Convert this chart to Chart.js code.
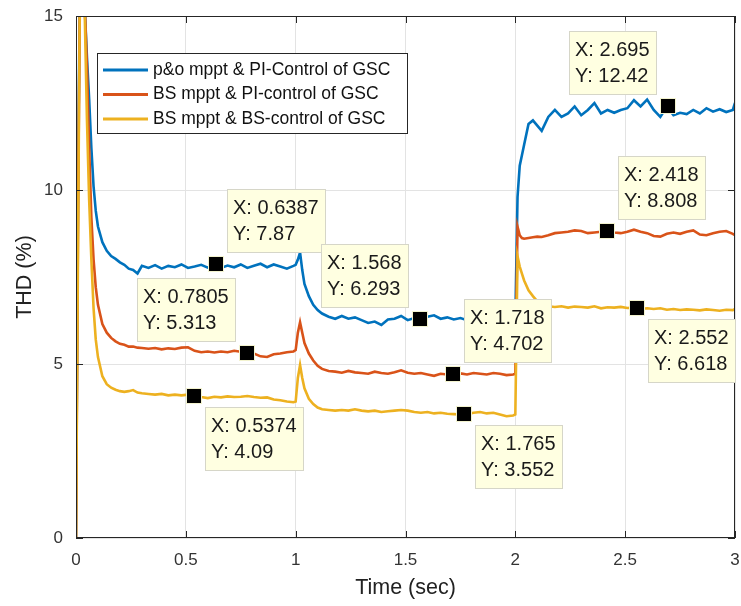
<!DOCTYPE html>
<html>
<head>
<meta charset="utf-8">
<script src="https://cdn.jsdelivr.net/npm/chart.js@4.4.1/dist/chart.umd.min.js"></script>
<style>
body { margin: 0; background: #fff; }
#wrap { width: 741px; height: 606px; }
</style>
</head>
<body>
<div id="wrap"><canvas id="thdChart" width="741" height="606"></canvas></div>
<script>
// time axis (sec), shared by all three curves
var timeSec = [0, 0.01, 0.02, 0.03, 0.04, 0.05, 0.06, 0.07, 0.08, 0.09, 0.1,
    0.12, 0.14, 0.16, 0.18, 0.2, 0.22, 0.24, 0.26, 0.28, 0.3,
    0.33, 0.36, 0.39, 0.42, 0.45, 0.48, 0.51, 0.54, 0.57, 0.6, 0.63, 0.66, 0.69, 0.72, 0.75, 0.78, 0.81, 0.84, 0.87, 0.9, 0.93, 0.96, 0.99,
    1.0, 1.01, 1.02, 1.03, 1.04, 1.06, 1.08, 1.1, 1.12,
    1.15, 1.18, 1.21, 1.24, 1.27, 1.3, 1.33, 1.36, 1.39, 1.42, 1.45, 1.48, 1.51, 1.54, 1.57, 1.6, 1.63, 1.66, 1.69, 1.72, 1.75, 1.78, 1.81, 1.84, 1.87, 1.9, 1.93, 1.96, 1.99,
    2.0, 2.01, 2.02, 2.03, 2.04, 2.06, 2.08, 2.1, 2.12,
    2.15, 2.18, 2.21, 2.24, 2.27, 2.3, 2.33, 2.36, 2.39, 2.42, 2.45, 2.48, 2.51, 2.54, 2.57, 2.6, 2.63, 2.66, 2.69, 2.72, 2.75, 2.78, 2.81, 2.84, 2.87, 2.9, 2.93, 2.96, 2.99, 3.0];

// p&o mppt & PI-Control of GSC
var thdPO = [0, 11, 17, 17.5, 15.2, 13.8, 12.6, 11.2, 10.1, 9.4, 8.95,
    8.5, 8.25, 8.1, 8.02, 7.92, 7.85, 7.74, 7.7, 7.6, 7.82,
    7.76, 7.84, 7.74, 7.82, 7.78, 7.86, 7.76, 7.8, 7.85, 7.77, 7.84, 7.76, 7.83, 7.78, 7.86, 7.76, 7.82, 7.88, 7.78, 7.86, 7.8, 7.74, 7.82,
    7.85, 8.0, 8.2, 7.7, 7.3, 6.95, 6.7, 6.55, 6.45,
    6.36, 6.3, 6.38, 6.3, 6.34, 6.26, 6.18, 6.22, 6.12, 6.28, 6.3, 6.38, 6.26, 6.32, 6.29, 6.36, 6.4, 6.3, 6.34, 6.28, 6.32, 6.26, 6.3, 6.34, 6.26, 6.3, 6.24, 6.3, 6.28,
    6.3, 9.8, 10.7, 11.0, 11.3, 11.9, 12.0, 11.85, 11.7,
    12.1, 12.3, 12.1, 12.2, 12.4, 12.15, 12.3, 12.5, 12.2, 12.3, 12.22, 12.3, 12.35, 12.58, 12.4, 12.6, 12.3, 12.1, 12.4, 12.15, 12.22, 12.18, 12.3, 12.2, 12.35, 12.25, 12.32, 12.24, 12.3, 12.5];

// BS mppt & PI-control of GSC
var thdBSPI = [0, 10, 17, 17.5, 15.3, 13.5, 11.2, 9.2, 8.0, 7.2, 6.7,
    6.15, 5.9, 5.75, 5.65, 5.58, 5.55, 5.5, 5.5, 5.47, 5.46,
    5.44, 5.46, 5.42, 5.45, 5.43, 5.47, 5.48, 5.38, 5.34, 5.36, 5.33, 5.36, 5.34, 5.38, 5.35, 5.31, 5.3, 5.22, 5.2, 5.28, 5.3, 5.34, 5.36,
    5.4, 5.9, 6.2, 5.9, 5.6, 5.3, 5.1, 4.95, 4.86,
    4.8, 4.78, 4.75, 4.8, 4.76, 4.74, 4.72, 4.78, 4.74, 4.72, 4.76, 4.82, 4.75, 4.72, 4.74, 4.7, 4.66, 4.72, 4.7, 4.7, 4.73, 4.7, 4.74, 4.72, 4.7, 4.74, 4.72, 4.68, 4.7,
    4.72, 8.95, 8.7, 8.62, 8.6, 8.62, 8.64, 8.66, 8.65,
    8.7, 8.76, 8.78, 8.8, 8.84, 8.82, 8.76, 8.78, 8.8, 8.81, 8.78, 8.76, 8.8, 8.86, 8.8, 8.76, 8.68, 8.66, 8.74, 8.78, 8.74, 8.8, 8.84, 8.72, 8.7, 8.76, 8.8, 8.82, 8.74, 8.7];

// BS mppt & BS-control of GSC
var thdBSBS = [0, 9, 18, 18, 15, 12, 9.7, 8, 6.6, 5.7, 5.2,
    4.65, 4.42, 4.32, 4.26, 4.22, 4.2, 4.22, 4.25, 4.18, 4.16,
    4.14, 4.12, 4.14, 4.1, 4.12, 4.1, 4.12, 4.09, 4.05, 4.02, 4.06, 4.04, 4.07, 4.05, 4.06, 4.08, 4.05, 4.03, 4.04, 3.98, 3.96, 3.92, 3.9,
    3.92, 4.6, 4.97, 4.6, 4.3, 4.0, 3.85, 3.75, 3.7,
    3.68, 3.66, 3.68, 3.66, 3.7, 3.66, 3.64, 3.66, 3.62, 3.64, 3.66, 3.68, 3.66, 3.62, 3.6, 3.62, 3.58, 3.6, 3.57, 3.56, 3.55, 3.56, 3.6, 3.62, 3.58, 3.6, 3.55, 3.5, 3.52,
    3.55, 8.1, 7.8, 7.6, 7.4, 7.12, 6.95, 6.8, 6.72,
    6.66, 6.64, 6.66, 6.62, 6.65, 6.64, 6.62, 6.66, 6.6, 6.63, 6.62, 6.64, 6.61, 6.62, 6.58, 6.6, 6.58, 6.6, 6.56, 6.58, 6.55, 6.57, 6.56, 6.54, 6.57, 6.55, 6.53, 6.56, 6.55, 6.58];

var seriesNames = ['p&o mppt & PI-Control of GSC', 'BS mppt & PI-control of GSC', 'BS mppt & BS-control of GSC'];
var seriesColors = ['#0072BD', '#D95319', '#EDB120'];

// data tips shown on the figure
var tipX = [0.6387, 1.568, 0.7805, 0.5374, 1.718, 1.765, 2.695, 2.418, 2.552];
var tipY = [7.87, 6.293, 5.313, 4.09, 4.702, 3.552, 12.42, 8.808, 6.618];

var FONT = '"Liberation Sans", Arial, sans-serif';
// which side of the marker each tip box sits on (u/d, l/r)
var tipSide = ['ur', 'ul', 'ul', 'dr', 'ur', 'dr', 'ul', 'ur', 'dr'];

function toPoints(ys) {
    return timeSec.map(function (t, i) { return { x: t, y: ys[i] }; });
}

// box, inward ticks, legend and data tips in MATLAB style
var matlabBits = {
    id: 'matlabBits',
    afterDatasetsDraw: function (chart) {
        var ctx = chart.ctx, a = chart.chartArea;
        var sx = chart.scales.x, sy = chart.scales.y;
        ctx.save();

        ctx.strokeStyle = '#262626';
        ctx.lineWidth = 1;
        ctx.strokeRect(a.left + 0.5, a.top + 0.5, a.right - a.left - 1, a.bottom - a.top - 1);
        ctx.beginPath();
        sx.ticks.forEach(function (t) {
            var px = Math.round(sx.getPixelForValue(t.value)) + 0.5;
            ctx.moveTo(px, a.bottom); ctx.lineTo(px, a.bottom - 7);
            ctx.moveTo(px, a.top); ctx.lineTo(px, a.top + 7);
        });
        sy.ticks.forEach(function (t) {
            var py = Math.round(sy.getPixelForValue(t.value)) + 0.5;
            ctx.moveTo(a.left, py); ctx.lineTo(a.left + 7, py);
            ctx.moveTo(a.right, py); ctx.lineTo(a.right - 7, py);
        });
        ctx.stroke();

        // legend
        var lx = a.left + 21, ly = a.top + 37, lw = 311, lh = 81;
        ctx.fillStyle = '#fff';
        ctx.fillRect(lx, ly, lw, lh);
        ctx.strokeStyle = '#262626';
        ctx.strokeRect(lx + 0.5, ly + 0.5, lw - 1, lh - 1);
        ctx.font = '17.5px ' + FONT;
        ctx.textBaseline = 'middle';
        ctx.textAlign = 'left';
        seriesNames.forEach(function (name, i) {
            var ry = ly + 17 + i * 24.5;
            ctx.strokeStyle = seriesColors[i];
            ctx.lineWidth = 3;
            ctx.beginPath();
            ctx.moveTo(lx + 6, ry); ctx.lineTo(lx + 51, ry);
            ctx.stroke();
            ctx.fillStyle = '#111';
            ctx.fillText(name, lx + 56, ry);
        });

        // data tips
        ctx.font = '20px ' + FONT;
        ctx.lineWidth = 1;
        tipX.forEach(function (xv, i) {
            var mx = sx.getPixelForValue(xv), my = sy.getPixelForValue(tipY[i]);
            var l1 = 'X: ' + xv, l2 = 'Y: ' + tipY[i];
            var w = Math.round(Math.max(ctx.measureText(l1).width, ctx.measureText(l2).width) + 13);
            var h = 64;
            var bx = tipSide[i][1] === 'r' ? mx + 11 : mx - 11 - w;
            var by = tipSide[i][0] === 'u' ? my - 11 - h : my + 11;
            bx = Math.round(bx); by = Math.round(by);
            ctx.fillStyle = '#ffffe1';
            ctx.fillRect(bx, by, w, h);
            ctx.strokeStyle = '#d6d6c8';
            ctx.strokeRect(bx + 0.5, by + 0.5, w - 1, h - 1);
            ctx.fillStyle = '#1a1a1a';
            ctx.fillText(l1, bx + 6, by + 19);
            ctx.fillText(l2, bx + 6, by + 45);
            ctx.fillStyle = '#000';
            ctx.fillRect(Math.round(mx) - 7, Math.round(my) - 7, 14, 14);
            ctx.strokeStyle = '#f3f3cf';
            ctx.strokeRect(Math.round(mx) - 7.5, Math.round(my) - 7.5, 15, 15);
        });
        ctx.restore();
    }
};

function plainNumber(value) {
    return String(Math.round(value * 100) / 100);
}

Chart.defaults.font.family = FONT;
var ctx = document.getElementById('thdChart').getContext('2d');
var thdChart = new Chart(ctx, {
    type: 'line',
    data: {
        datasets: [
            { label: seriesNames[0], data: toPoints(thdPO), borderColor: seriesColors[0], order: 2 },
            { label: seriesNames[1], data: toPoints(thdBSPI), borderColor: seriesColors[1], order: 1 },
            { label: seriesNames[2], data: toPoints(thdBSBS), borderColor: seriesColors[2], order: 0 }
        ]
    },
    options: {
        responsive: false,
        animation: false,
        devicePixelRatio: 1,
        layout: { padding: { top: 16, right: 6, left: 0, bottom: 0 } },
        elements: {
            line: { borderWidth: 2.6, tension: 0, fill: false },
            point: { radius: 0 }
        },
        plugins: { legend: { display: false }, tooltip: { enabled: false } },
        scales: {
            x: {
                type: 'linear', min: 0, max: 3,
                afterFit: function (s) { s.height = 68; s.paddingLeft = 0; s.paddingRight = 0; },
                ticks: { stepSize: 0.5, color: '#333', font: { size: 17 }, padding: 12, maxRotation: 0, callback: plainNumber },
                grid: { color: '#e3e3e3', drawTicks: false },
                border: { display: false },
                title: { display: true, text: 'Time (sec)', color: '#222', font: { size: 21.5 }, padding: { top: 0, bottom: 5 } }
            },
            y: {
                min: 0, max: 15,
                afterFit: function (s) { s.width = 76; s.paddingTop = 0; s.paddingBottom = 0; },
                ticks: { stepSize: 5, color: '#333', font: { size: 17 }, padding: 13, callback: plainNumber },
                grid: { color: '#e3e3e3', drawTicks: false },
                border: { display: false },
                title: { display: true, text: 'THD (%)', color: '#222', font: { size: 21.5 }, padding: { top: 12, bottom: 0 } }
            }
        }
    },
    plugins: [matlabBits]
});
</script>
</body>
</html>
